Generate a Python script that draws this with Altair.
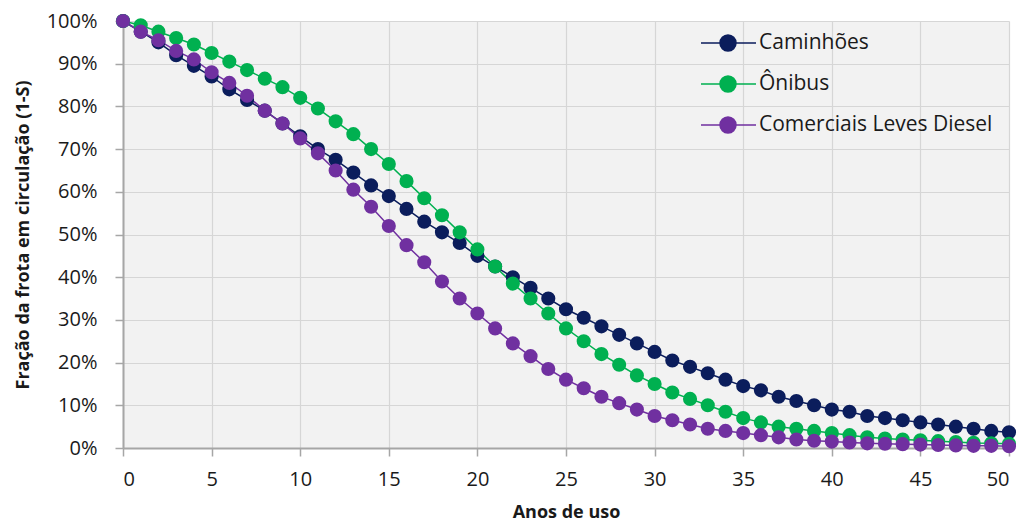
import altair as alt
import pandas as pd

anos = list(range(0, 51))
caminhoes = [100, 97.5, 95, 92, 89.5, 87, 84, 81.5, 79, 76, 73, 70, 67.5, 64.5, 61.5, 59, 56, 53, 50.5, 48,
             45, 42.5, 40, 37.5, 35, 32.5, 30.5, 28.5, 26.5, 24.5, 22.5, 20.5, 19, 17.5, 16, 14.5, 13.5, 12, 11, 10,
             9, 8.5, 7.5, 7, 6.5, 6, 5.5, 5, 4.5, 4, 3.7]
onibus = [100, 99, 97.5, 96, 94.5, 92.5, 90.5, 88.5, 86.5, 84.5, 82, 79.5, 76.5, 73.5, 70, 66.5, 62.5, 58.5, 54.5, 50.5,
          46.5, 42.5, 38.5, 35, 31.5, 28, 25, 22, 19.5, 17, 15, 13, 11.5, 10, 8.5, 7, 6, 5, 4.5, 4,
          3.5, 3, 2.5, 2.2, 2, 1.8, 1.6, 1.4, 1.2, 1.1, 1]
comerciais = [100, 97.5, 95.5, 93, 91, 88, 85.5, 82.5, 79, 76, 72.5, 69, 65, 60.5, 56.5, 52, 47.5, 43.5, 39, 35,
              31.5, 28, 24.5, 21.5, 18.5, 16, 14, 12, 10.5, 9, 7.5, 6.5, 5.5, 4.5, 4, 3.5, 3, 2.5, 2, 1.7,
              1.5, 1.3, 1.1, 1, 0.9, 0.8, 0.7, 0.6, 0.5, 0.5, 0.4]

series = ["Caminhões", "Ônibus", "Comerciais Leves Diesel"]
colors = ["#0B1D5C", "#00B050", "#7030A0"]
x_ticks = list(range(0, 51, 5))
y_ticks = [i / 10 for i in range(0, 11)]

rows = []
for k, (name, vals) in enumerate(zip(series, [caminhoes, onibus, comerciais])):
    for a, v in zip(anos, vals):
        rows.append({"ano": a, "frac": v / 100, "serie": name, "ordem": k})
df = pd.DataFrame(rows)

# symbol drawn at scale 10px per unit: line from -27px to +28px, circle r=8px
sym = ("M-2.7,0L-0.8,0M0.8,0L2.8,0"
       "M-0.8,0A0.8,0.8 0 1,0 0.8,0A0.8,0.8 0 1,0 -0.8,0Z")

FONT = "Open Sans"
TXT = "#1a1a1a"

color = alt.Color(
    "serie:N",
    scale=alt.Scale(domain=series, range=colors),
    sort=series,
    legend=alt.Legend(
        title=None, orient="none", legendX=594, legendY=11,
        symbolType=sym, symbolSize=400, symbolStrokeWidth=1.5,
        labelFontSize=21, labelFont=FONT, labelColor=TXT, labelLimit=400,
        rowPadding=19, labelOffset=20, symbolOpacity=1,
    ),
)

axis_common = dict(
    gridColor="#D6D6D6", gridWidth=1.2,
    domainColor="#A6A6A6", domainWidth=2,
    tickColor="#A6A6A6", tickSize=8, tickWidth=1.5,
    labelFont=FONT, labelFontSize=20, labelColor=TXT,
    titleFont=FONT, titleFontSize=18, titleFontWeight="bold", titleColor=TXT,
)

x = alt.X("ano:Q", scale=alt.Scale(domain=[0, 50], nice=False),
          axis=alt.Axis(values=x_ticks, title="Anos de uso", titlePadding=14, labelPadding=13, **axis_common))
y = alt.Y("frac:Q", scale=alt.Scale(domain=[0, 1], nice=False),
          axis=alt.Axis(values=y_ticks, format=".0%", title="Fração da frota em circulação (1-S)",
                        titlePadding=14, labelPadding=18, **axis_common))

base = alt.Chart(df).encode(x=x, y=y, color=color, detail="serie:N")

lines = base.mark_line(strokeWidth=1.5, clip=False).encode(order=alt.Order("ano:Q"))
points = base.mark_circle(size=200, opacity=1, clip=False).encode(order=alt.Order("ordem:Q"))

chart = (lines + points).properties(
    width=886, height=427, background="white",
    padding={"left": 6, "top": 3, "right": 0, "bottom": 0},
).configure_view(
    fill="#F2F2F2", stroke=None
)

chart.save("out.html", embed_options={"renderer": "svg", "actions": False})
